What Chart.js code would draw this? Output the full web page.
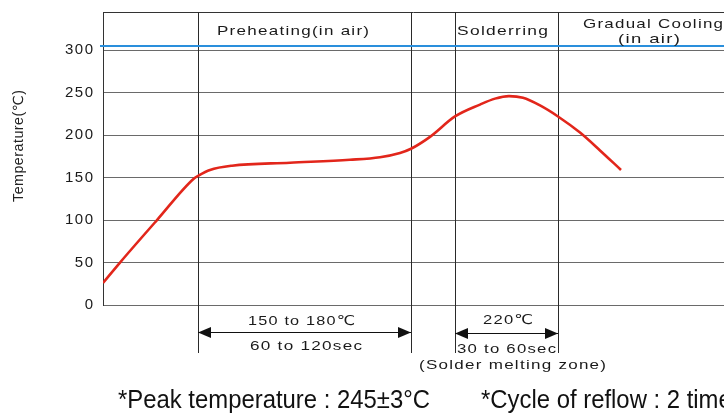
<!DOCTYPE html>
<html><head><meta charset="utf-8">
<script src="https://cdn.jsdelivr.net/npm/chart.js@4.4.1/dist/chart.umd.min.js"></script>
<style>html,body{margin:0;padding:0;background:#fff;overflow:hidden}#wrap{width:724px;height:413px;position:relative}</style>
</head><body><div id="wrap"><canvas id="c" width="724" height="413"></canvas></div>
<script>
// ---- data ----
const timeSec = [0, 8.5, 27, 45.5, 47.5, 53.5, 64.5, 93.5, 123.5, 138.5, 148.5, 154, 163.5, 176, 188.5, 196, 203, 210, 218.5, 227.5, 238.5, 248.5, 259];
const tempC   = [26, 50, 100, 149, 152, 159, 164, 167.5, 171, 174, 179, 184, 198, 222, 236, 243, 246, 244, 235, 222, 203, 182, 159];
const yTicks = [0, 50, 100, 150, 200, 250, 300];
const zoneBounds = [47.5, 154, 176, 227.5];   // preheat start/end, solder start/end
const blueLineTemp = 305;
const xMin = 0, xMax = 310.5, yMin = 0, yMax = 345;

const FONT = '"Liberation Sans", Arial, "DejaVu Sans", sans-serif';

// draw text with small letter spacing, stretched horizontally to span x1..x2
function drawFit(ctx, text, x1, x2, cy, size, spacing, color) {
  ctx.save();
  ctx.font = size + 'px ' + FONT;
  ctx.letterSpacing = spacing + 'px';
  const w = ctx.measureText(text).width - spacing;
  const sx = (x2 - x1) / w;
  ctx.translate(x1, cy); ctx.scale(sx, 1);
  ctx.textAlign = 'left'; ctx.textBaseline = 'middle';
  ctx.fillStyle = color || '#1a1a1a';
  ctx.fillText(text, 0, 0);
  ctx.restore();
}
function drawScaled(ctx, text, x1, sx, cy, size, color) {
  ctx.save();
  ctx.font = size + 'px ' + FONT;
  ctx.letterSpacing = '0px';
  ctx.translate(x1, cy); ctx.scale(sx, 1);
  ctx.textAlign = 'left'; ctx.textBaseline = 'middle';
  ctx.fillStyle = color || '#111';
  ctx.fillText(text, 0, 0);
  ctx.restore();
}
function arrow(ctx, x1, x2, y) {
  ctx.save();
  ctx.strokeStyle = '#111'; ctx.fillStyle = '#111'; ctx.lineWidth = 1;
  ctx.beginPath(); ctx.moveTo(x1, y + 0.5); ctx.lineTo(x2, y + 0.5); ctx.stroke();
  const L = 13, H = 5.5;
  ctx.beginPath(); ctx.moveTo(x1, y + 0.5); ctx.lineTo(x1 + L, y + 0.5 - H); ctx.lineTo(x1 + L, y + 0.5 + H); ctx.closePath(); ctx.fill();
  ctx.beginPath(); ctx.moveTo(x2, y + 0.5); ctx.lineTo(x2 - L, y + 0.5 - H); ctx.lineTo(x2 - L, y + 0.5 + H); ctx.closePath(); ctx.fill();
  ctx.restore();
}

const decor = {
  id: 'decor',
  beforeDraw(chart) { chart.ctx.letterSpacing = '1.5px'; },
  beforeDatasetsDraw(chart) {
    const ctx = chart.ctx, a = chart.chartArea, xs = chart.scales.x, ys = chart.scales.y;
    ctx.save();
    ctx.letterSpacing = '0px';
    // top frame
    ctx.strokeStyle = '#333'; ctx.lineWidth = 1;
    ctx.beginPath(); ctx.moveTo(a.left, Math.round(a.top) + 0.5); ctx.lineTo(a.right, Math.round(a.top) + 0.5); ctx.stroke();
    // zone boundaries (extend below the plot)
    ctx.strokeStyle = '#2a2a2a';
    zoneBounds.forEach(v => {
      const px = Math.round(xs.getPixelForValue(v)) + 0.5;
      ctx.beginPath(); ctx.moveTo(px, a.top); ctx.lineTo(px, 353); ctx.stroke();
    });
    // blue reference line
    const by = ys.getPixelForValue(blueLineTemp);
    ctx.strokeStyle = '#2a8fdc'; ctx.lineWidth = 2;
    ctx.beginPath(); ctx.moveTo(a.left - 3, by); ctx.lineTo(a.right, by); ctx.stroke();
    ctx.restore();
  },
  afterDraw(chart) {
    const ctx = chart.ctx, xs = chart.scales.x;
    ctx.letterSpacing = '0px';
    const p = zoneBounds.map(v => Math.round(xs.getPixelForValue(v)));
    // phase headers
    drawFit(ctx, 'Preheating(in air)', 217, 369, 31, 13.5, 1);
    drawFit(ctx, 'Solderring', 457, 548, 31.5, 13.5, 1);
    drawFit(ctx, 'Gradual Cooling', 583, 723, 24, 13.5, 1);
    drawFit(ctx, '(in air)', 618, 680, 39.5, 13.5, 1);
    // dimension arrows
    arrow(ctx, p[0], p[1], 332);
    arrow(ctx, p[2], p[3], 333);
    drawFit(ctx, '150 to 180℃', 248, 355, 321.5, 13.5, 1);
    drawFit(ctx, '60 to 120sec', 250, 362, 346, 13.5, 1);
    drawFit(ctx, '220℃', 483, 533, 320.5, 13.5, 1);
    drawFit(ctx, '30 to 60sec', 457, 556, 349, 13.5, 1);
    drawFit(ctx, '(Solder melting zone)', 419, 606, 365.5, 13.5, 1);
    // y title
    ctx.save();
    ctx.translate(19.5, 146); ctx.rotate(-Math.PI / 2);
    drawFit(ctx, 'Temperature(℃)', -56, 56, 0, 14, 0.5, '#222');
    ctx.restore();
    // footer notes
    ctx.save();
    ctx.font = '25px ' + FONT;
    const w = ctx.measureText('*Peak temperature : 245±3°C').width;
    ctx.restore();
    const sx = (430 - 118) / w;
    drawScaled(ctx, '*Peak temperature : 245±3°C', 118, sx, 401, 25, '#111');
    drawScaled(ctx, '*Cycle of reflow : 2 times', 481, sx, 401, 25, '#111');
  }
};

new Chart(document.getElementById('c'), {
  type: 'line',
  data: {
    datasets: [{
      data: timeSec.map((t, i) => ({ x: t, y: tempC[i] })),
      borderColor: '#e2261b',
      borderWidth: 2.6,
      pointRadius: 0,
      fill: false,
      cubicInterpolationMode: 'monotone'
    }]
  },
  options: {
    responsive: false,
    animation: false,
    devicePixelRatio: 1,
    layout: { padding: { top: 12, bottom: 108, left: 0, right: 0 } },
    plugins: { legend: { display: false }, tooltip: { enabled: false } },
    scales: {
      x: { type: 'linear', min: xMin, max: xMax, display: false },
      y: {
        min: yMin, max: yMax,
        afterBuildTicks(s) { s.ticks = yTicks.map(v => ({ value: v })); },
        afterFit(s) { s.width = 103; s.paddingTop = 0; s.paddingBottom = 0; },
        grid: { color: '#6a6a6a', lineWidth: 1, drawTicks: false },
        border: { display: true, color: '#333', width: 1 },
        ticks: { padding: 8.5, color: '#1a1a1a', font: { size: 15, family: FONT } }
      }
    }
  },
  plugins: [decor]
});
</script></body></html>
